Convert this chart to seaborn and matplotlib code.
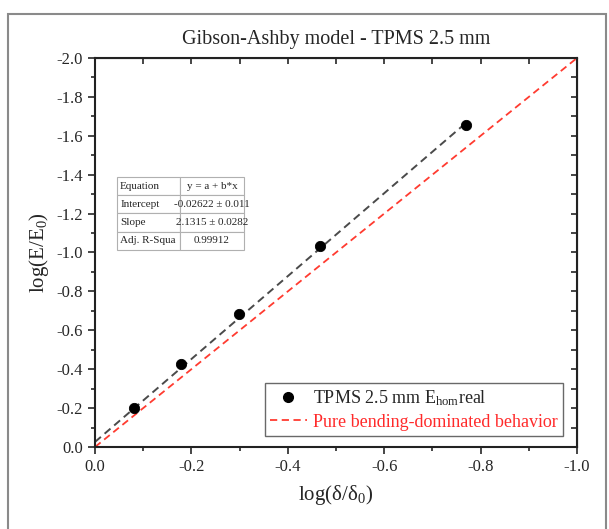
import seaborn as sns
import matplotlib.pyplot as plt
from matplotlib.patches import Rectangle
from matplotlib.lines import Line2D
from matplotlib.ticker import MultipleLocator, FuncFormatter
import pandas as pd

# measured points
log_d = [-0.080, -0.178, -0.299, -0.467, -0.769]
log_E = [-0.202, -0.427, -0.682, -1.033, -1.657]

# linear fit line (endpoints) and pure bending reference (slope 2)
fit_x = [0.0, -0.77]
fit_y = [-0.026, -1.667]
ref_x = [0.0, -1.0]
ref_y = [0.0, -2.0]

fit_table = [["Equation", "y = a + b*x"],
             ["Intercept", "-0.02622 ± 0.011"],
             ["Slope", "2.1315 ± 0.0282"],
             ["Adj. R-Squa", "0.99912"]]

sns.set_style("ticks")
plt.rcParams['font.family'] = ['Liberation Serif', 'DejaVu Serif']
plt.rcParams['mathtext.fontset'] = 'custom'
plt.rcParams['mathtext.rm'] = 'Liberation Serif'
plt.rcParams['mathtext.it'] = 'Liberation Serif:italic'

fig = plt.figure(figsize=(6.09, 5.29), dpi=100)
ax = fig.add_axes([95/609, 1 - 447/529, 482/609, 389/529])

pts = pd.DataFrame({"x": log_d, "y": log_E})
fit = pd.DataFrame({"x": fit_x, "y": fit_y})
ref = pd.DataFrame({"x": ref_x, "y": ref_y})

sns.lineplot(data=fit, x="x", y="y", ax=ax, color="#4a4a4a",
             linestyle=(0, (4, 2.5)), linewidth=1.4, sort=False)
sns.lineplot(data=ref, x="x", y="y", ax=ax, color="#ff3b30",
             linestyle=(0, (4, 2.5)), linewidth=1.3, sort=False)
sns.scatterplot(data=pts, x="x", y="y", ax=ax, color="black", s=55,
                edgecolor="black", zorder=5)

ax.set_xlim(0, -1.0)
ax.set_ylim(0, -2.0)

ax.xaxis.set_major_locator(MultipleLocator(0.2))
ax.xaxis.set_minor_locator(MultipleLocator(0.1))
ax.yaxis.set_major_locator(MultipleLocator(0.2))
ax.yaxis.set_minor_locator(MultipleLocator(0.1))
fmt = FuncFormatter(lambda v, p: "0.0" if abs(v) < 1e-9 else f"{v:.1f}")
ax.xaxis.set_major_formatter(fmt)
ax.yaxis.set_major_formatter(fmt)

ax.tick_params(which="both", direction="out", labelsize=12, width=1.2)
ax.tick_params(which="major", length=5)
ax.tick_params(which="minor", length=3)
for s in ax.spines.values():
    s.set_linewidth(1.5)
    s.set_color("#222222")

# inward ticks on the top and right
secx = ax.secondary_xaxis("top")
secx.xaxis.set_major_locator(MultipleLocator(0.1))
secx.tick_params(direction="in", length=4, width=1.2, labeltop=False)
secy = ax.secondary_yaxis("right")
secy.yaxis.set_major_locator(MultipleLocator(0.1))
secy.tick_params(direction="in", length=4, width=1.2, labelright=False)

ax.set_xlabel("log(δ/δ$_0$)", fontsize=15, labelpad=6)
ax.set_ylabel("log(E/E$_0$)", fontsize=15, labelpad=4)
ax.set_title("Gibson-Ashby model - TPMS 2.5 mm", fontsize=14.5, pad=10)

# fit results table
tbl = ax.table(cellText=fit_table, cellLoc="center",
               colWidths=[0.5, 0.5],
               bbox=[22/482, (447-250)/389, 127/482, 73/389])
tbl.auto_set_font_size(False)
tbl.set_fontsize(8)
for (r, c), cell in tbl.get_celld().items():
    cell.set_edgecolor("#b0b0b0")
    cell.set_linewidth(0.8)
    if c == 0:
        cell.get_text().set_ha("left")
        cell.PAD = 0.05
        cell.set_width(63/482)
    else:
        cell.set_width(64/482)

handles = [Line2D([], [], marker="o", color="black", linestyle="none", markersize=7),
           Line2D([], [], color="#ff3b30", linestyle=(0, (4, 2.5)), linewidth=1.3)]
labels = [r"TPMS 2.5 mm E$_{\rm hom}$real", "Pure bending-dominated behavior"]
leg = ax.legend(handles, labels, loc="lower right", bbox_to_anchor=(0.971, 0.028),
                fontsize=13, frameon=True, fancybox=False, edgecolor="#444444",
                handlelength=2.0, handletextpad=0.35, borderpad=0.3,
                labelspacing=0.3, borderaxespad=0)
leg.get_frame().set_linewidth(1.0)
leg.get_texts()[1].set_color("#ff2a2a")

# grey frame around the whole figure
fig.patches.append(Rectangle((8/609, -0.01), 598/609, 1 - 14/529 + 0.01,
                             transform=fig.transFigure, fill=False,
                             edgecolor="#8a8a8a", linewidth=1.5))

plt.savefig("out.png", dpi=100)
